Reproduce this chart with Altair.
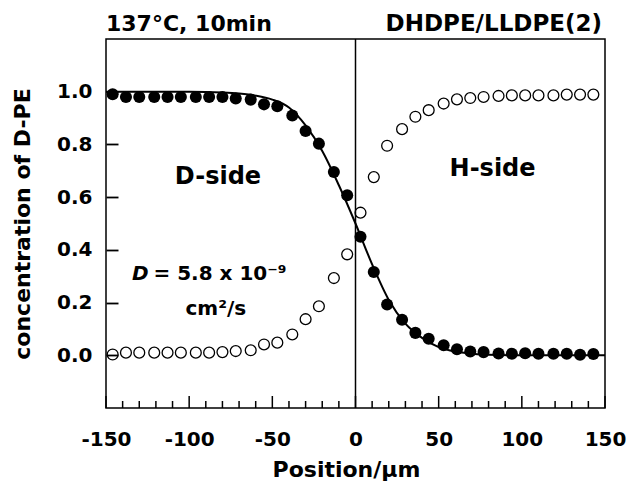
import altair as alt
import pandas as pd

# ---- data ----
positions = [-146, -138, -130, -121, -113, -105, -96, -88, -80, -72, -63, -55,
             -47, -38, -30, -22, -13, -5, 3, 11, 19, 28, 36, 44,
             53, 61, 69, 77, 86, 94, 102, 110, 119, 127, 135, 143]
dpe_filled = [0.99, 0.98, 0.98, 0.98, 0.98, 0.98, 0.98, 0.98, 0.98, 0.974, 0.97, 0.952,
              0.945, 0.91, 0.851, 0.803, 0.695, 0.607, 0.45, 0.316, 0.193, 0.135, 0.085, 0.063,
              0.038, 0.023, 0.014, 0.012, 0.007, 0.006, 0.008, 0.006, 0.006, 0.006, 0.002, 0.005]
hpe_open = [0.003, 0.01, 0.01, 0.01, 0.01, 0.01, 0.01, 0.01, 0.012, 0.016, 0.019, 0.041,
            0.048, 0.079, 0.137, 0.186, 0.293, 0.383, 0.541, 0.676, 0.795, 0.858, 0.905, 0.93,
            0.955, 0.971, 0.976, 0.98, 0.984, 0.986, 0.986, 0.986, 0.986, 0.989, 0.989, 0.989]

fit_x = [-150, -100, -80, -70, -60, -50, -40, -30, -20, -10, 0, 10, 20, 30, 40, 50, 60, 70, 80, 100, 150]
fit_y = [1.0, 1.0, 0.997, 0.993, 0.985, 0.97, 0.94, 0.872, 0.775, 0.645, 0.5, 0.345, 0.21,
         0.12, 0.066, 0.031, 0.014, 0.006, 0.002, 0.0, 0.0]

x_major = [-150, -100, -50, 0, 50, 100, 150]
x_minor = [v for v in range(-140, 141, 10) if v % 50 != 0]
y_ticks = [0.0, 0.2, 0.4, 0.6, 0.8, 1.0]

notes_text = ["D-side", "H-side", "cm²/s"]
notes_x = [-82.7, 82.4, -84]
notes_y = [0.677, 0.706, 0.175]

W, H = 499, 369
FONT = "DejaVu Sans"

pts = pd.DataFrame({"x": positions, "d": dpe_filled, "h": hpe_open})
fit = pd.DataFrame({"x": fit_x, "y": fit_y})
xmaj = pd.DataFrame({"x": x_major})
xmin = pd.DataFrame({"x": x_minor})
notes = pd.DataFrame({"t": notes_text, "x": notes_x, "y": notes_y})

xs = alt.Scale(domain=[-150, 150], nice=False, zero=False)
ys = alt.Scale(domain=[-0.2, 1.2], nice=False, zero=False)

x_axis = alt.Axis(values=x_major, title="Position/μm", domain=False, ticks=False, grid=False,
                  labelExpr="'' + datum.value",
                  labelFont=FONT, labelFontSize=20, labelFontWeight="bold", labelColor="black",
                  labelPadding=21, titleFont=FONT, titleFontSize=22, titleFontWeight="bold",
                  titleColor="black", titlePadding=10, titleX=240, labelFlush=False)
# inward ticks: the axis is shifted 12 px into the plot and its ticks point back to the frame
y_axis = alt.Axis(values=y_ticks, format=".1f", title="concentration of D-PE", domain=False,
                  ticks=True, tickSize=12, tickWidth=1.8, tickColor="black", offset=-12,
                  grid=False, labelFont=FONT, labelFontSize=20, labelFontWeight="bold",
                  labelColor="black", labelPadding=14, titleFont=FONT, titleFontSize=22,
                  titleFontWeight="bold", titleColor="black", titlePadding=22)


def X(field):
    return alt.X(field, type="quantitative", scale=xs, axis=x_axis)


def Y(field):
    return alt.Y(field, type="quantitative", scale=ys, axis=y_axis)


fit_line = alt.Chart(fit).mark_line(color="black", strokeWidth=2, interpolate="monotone").encode(
    x=X("x"), y=Y("y"))

filled = alt.Chart(pts).mark_point(filled=True, shape="circle", size=145, color="black", opacity=1).encode(
    x=X("x"), y=Y("d"))

open_pts = alt.Chart(pts).mark_point(filled=False, shape="circle", size=118, color="black",
                                     strokeWidth=1.3, opacity=1).encode(
    x=X("x"), y=Y("h"))

zero_line = alt.Chart(pd.DataFrame({"x": [0]})).mark_rule(color="black", strokeWidth=1.5).encode(
    x=X("x"), y=alt.value(0), y2=alt.value(H))

major_ticks = alt.Chart(xmaj).mark_rule(color="black", strokeWidth=1.5).encode(
    x=X("x"), y=alt.value(H), y2=alt.value(H - 12))
minor_ticks = alt.Chart(xmin).mark_rule(color="black", strokeWidth=1.5).encode(
    x=X("x"), y=alt.value(H), y2=alt.value(H - 7))

side_notes = alt.Chart(notes).mark_text(font=FONT, fontWeight="bold", color="black",
                                        align="center", baseline="middle").encode(
    x=X("x"), y=Y("y"), text="t:N",
    size=alt.condition(alt.datum.t == "cm²/s", alt.value(20), alt.value(24)),
)

d_italic = alt.Chart(pd.DataFrame({"t": ["D"], "x": [-134.3], "y": [0.307]})).mark_text(
    font=FONT, fontSize=20, fontWeight="bold", fontStyle="italic", color="black",
    align="left", baseline="middle").encode(x=X("x"), y=Y("y"), text="t:N")
d_value = alt.Chart(pd.DataFrame({"t": ["= 5.8 x 10⁻⁹"], "x": [-121.5], "y": [0.307]})).mark_text(
    font=FONT, fontSize=20, fontWeight="bold", color="black",
    align="left", baseline="middle").encode(x=X("x"), y=Y("y"), text="t:N")

title_left = alt.Chart(pd.DataFrame({"t": ["137°C, 10min"]})).mark_text(
    font=FONT, fontSize=22, fontWeight="bold", color="black", align="left", baseline="alphabetic").encode(
    x=alt.value(0), y=alt.value(-8), text="t:N")
title_right = alt.Chart(pd.DataFrame({"t": ["DHDPE/LLDPE(2)"]})).mark_text(
    font=FONT, fontSize=23, fontWeight="bold", color="black", align="right", baseline="alphabetic").encode(
    x=alt.value(W - 3), y=alt.value(-8), text="t:N")

chart = alt.layer(
    fit_line, zero_line, major_ticks, minor_ticks, filled, open_pts,
    side_notes, d_italic, d_value, title_left, title_right
).properties(
    width=W, height=H,
    autosize=alt.AutoSizeParams(type="none"),
    padding={"left": 106, "top": 39, "right": 24, "bottom": 79},
    background="white",
).configure_view(stroke="black", strokeWidth=1.5)

chart.save("out.html", embed_options={"renderer": "svg", "actions": False})
